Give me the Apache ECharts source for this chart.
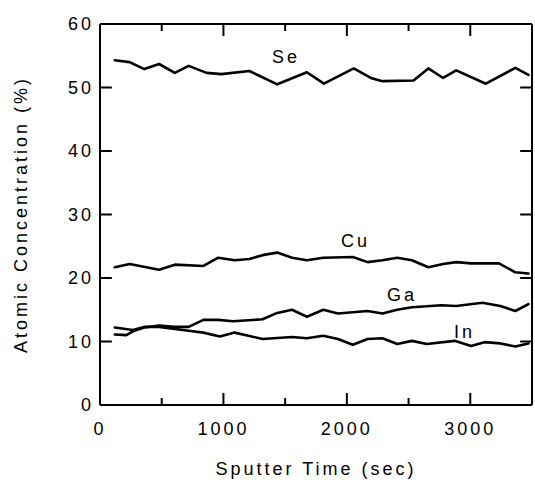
<!DOCTYPE html>
<html>
<head>
<meta charset="utf-8">
<script src="https://cdn.jsdelivr.net/npm/echarts@6/dist/echarts.min.js"></script>
<style>
html,body{margin:0;padding:0;background:#fff;}
#c{width:535px;height:483px;letter-spacing:3px;}
</style>
</head>
<body>
<div id="c"></div>
<script>
// Sputter time (sec) / atomic concentration (%) readings
const seTime = [120,240,359,479,606,718,864,984,1210,1436,1676,1814,2056,2194,2288,2540,2660,2780,2886,3126,3365,3471];
const seConc = [54.3,54.0,52.9,53.7,52.3,53.4,52.3,52.1,52.6,50.5,52.4,50.6,53.0,51.5,51.0,51.1,53.0,51.5,52.7,50.6,53.1,52.0];

const cuTime = [120,240,479,606,838,958,1091,1210,1317,1436,1556,1676,1809,2048,2168,2288,2408,2527,2660,2780,2886,3006,3232,3365,3471];
const cuConc = [21.7,22.2,21.3,22.1,21.9,23.2,22.8,23.0,23.6,24.0,23.2,22.8,23.2,23.3,22.5,22.8,23.2,22.8,21.7,22.2,22.5,22.3,22.3,20.9,20.7];

const gaTime = [120,213,279,359,479,598,718,838,958,1077,1317,1436,1556,1676,1809,1928,2168,2288,2408,2527,2766,2886,3098,3244,3365,3471];
const gaConc = [11.1,11.0,11.7,12.2,12.5,12.3,12.3,13.4,13.4,13.2,13.5,14.5,15.0,13.9,15.0,14.4,14.8,14.4,15.0,15.4,15.7,15.6,16.1,15.6,14.8,15.9];

const inTime = [120,266,359,479,718,838,971,1091,1317,1556,1676,1809,1928,2048,2168,2288,2408,2527,2647,2873,3006,3114,3244,3365,3471];
const inConc = [12.2,11.8,12.3,12.3,11.7,11.4,10.8,11.4,10.4,10.7,10.5,10.9,10.4,9.5,10.4,10.5,9.6,10.1,9.6,10.1,9.3,9.9,9.7,9.2,9.7];

const xTicks = [0,1000,2000,3000];
const xMinorTicks = [500,1500,2500];
const yTicks = [0,10,20,30,40,50,60];
const seriesNames = ['Se','Cu','Ga','In'];

const X_MIN = 0, X_MAX = 3500, Y_MIN = 0, Y_MAX = 60;
// tick lengths expressed in axis units (about 12 px major, 7 px minor)
const TICK_H = 96;     // horizontal tick length on the y sides (seconds)
const TICK_V = 1.9;    // vertical major tick length (%)
const TICK_V_MINOR = 1.1;

const pair = (xs, ys) => xs.map((x, i) => [x, ys[i]]);
const FONT = 'Liberation Sans, Arial, Helvetica, sans-serif';
const chart = echarts.init(document.getElementById('c'), null, {renderer: 'svg'});

const mkSeries = (name, xs, ys) => ({
  name, type: 'line', data: pair(xs, ys), showSymbol: false, symbol: 'none',
  lineStyle: {color: '#000', width: 2.6, join: 'round', cap: 'round'},
  itemStyle: {color: '#000'}, animation: false, clip: true
});

// frame and tick segments, drawn as two-point line series through the axes' scales
const seg = (a, b) => ({
  type: 'line', data: [a, b], symbol: 'none', showSymbol: false, clip: false,
  silent: true, animation: false, z: 5,
  lineStyle: {color: '#000', width: 2, cap: 'butt'}, itemStyle: {color: '#000'}
});
const frame = [
  seg([X_MIN, Y_MIN], [X_MAX, Y_MIN]),
  seg([X_MIN, Y_MAX], [X_MAX, Y_MAX]),
  seg([X_MIN, Y_MIN], [X_MIN, Y_MAX]),
  seg([X_MAX, Y_MIN], [X_MAX, Y_MAX])
];
xTicks.forEach(v => {
  frame.push(seg([v, Y_MIN], [v, Y_MIN + TICK_V]));
  frame.push(seg([v, Y_MAX], [v, Y_MAX - TICK_V]));
});
xMinorTicks.forEach(v => {
  frame.push(seg([v, Y_MIN], [v, Y_MIN + TICK_V_MINOR]));
  frame.push(seg([v, Y_MAX], [v, Y_MAX - TICK_V_MINOR]));
});
yTicks.forEach(v => {
  frame.push(seg([X_MIN, v], [X_MIN + TICK_H, v]));
  frame.push(seg([X_MAX, v], [X_MAX - TICK_H, v]));
});

chart.setOption({
  backgroundColor: '#fff',
  animation: false,
  grid: {left: 100, top: 24, right: -4, bottom: 75, containLabel: false},
  xAxis: {
    type: 'value', min: X_MIN, max: X_MAX, interval: 1000,
    axisLine: {show: false}, axisTick: {show: false}, splitLine: {show: false},
    axisLabel: {color: '#000', fontSize: 18, fontFamily: FONT, margin: 15,
      formatter: v => xTicks.includes(v) ? String(v) : ''},
    name: 'Sputter Time (sec)', nameLocation: 'middle', nameGap: 55,
    nameTextStyle: {color: '#000', fontSize: 18, fontFamily: FONT}
  },
  yAxis: {
    type: 'value', min: Y_MIN, max: Y_MAX, interval: 10,
    axisLine: {show: false}, axisTick: {show: false}, splitLine: {show: false},
    axisLabel: {color: '#000', fontSize: 18, fontFamily: FONT, margin: 6,
      formatter: v => yTicks.includes(v) ? String(v) : ''},
    name: 'Atomic Concentration (%)', nameLocation: 'middle', nameGap: 70,
    nameTextStyle: {color: '#000', fontSize: 18, fontFamily: FONT}
  },
  series: [
    mkSeries(seriesNames[0], seTime, seConc),
    mkSeries(seriesNames[1], cuTime, cuConc),
    mkSeries(seriesNames[2], gaTime, gaConc),
    mkSeries(seriesNames[3], inTime, inConc)
  ].concat(frame),
  graphic: [
    {type: 'text', left: 272, top: 48, style: {text: seriesNames[0], fill: '#000', font: '18px ' + FONT}},
    {type: 'text', left: 341, top: 232, style: {text: seriesNames[1], fill: '#000', font: '18px ' + FONT}},
    {type: 'text', left: 387, top: 286, style: {text: seriesNames[2], fill: '#000', font: '18px ' + FONT}},
    {type: 'text', left: 454, top: 323, style: {text: seriesNames[3], fill: '#000', font: '18px ' + FONT}}
  ]
});
</script>
</body>
</html>
